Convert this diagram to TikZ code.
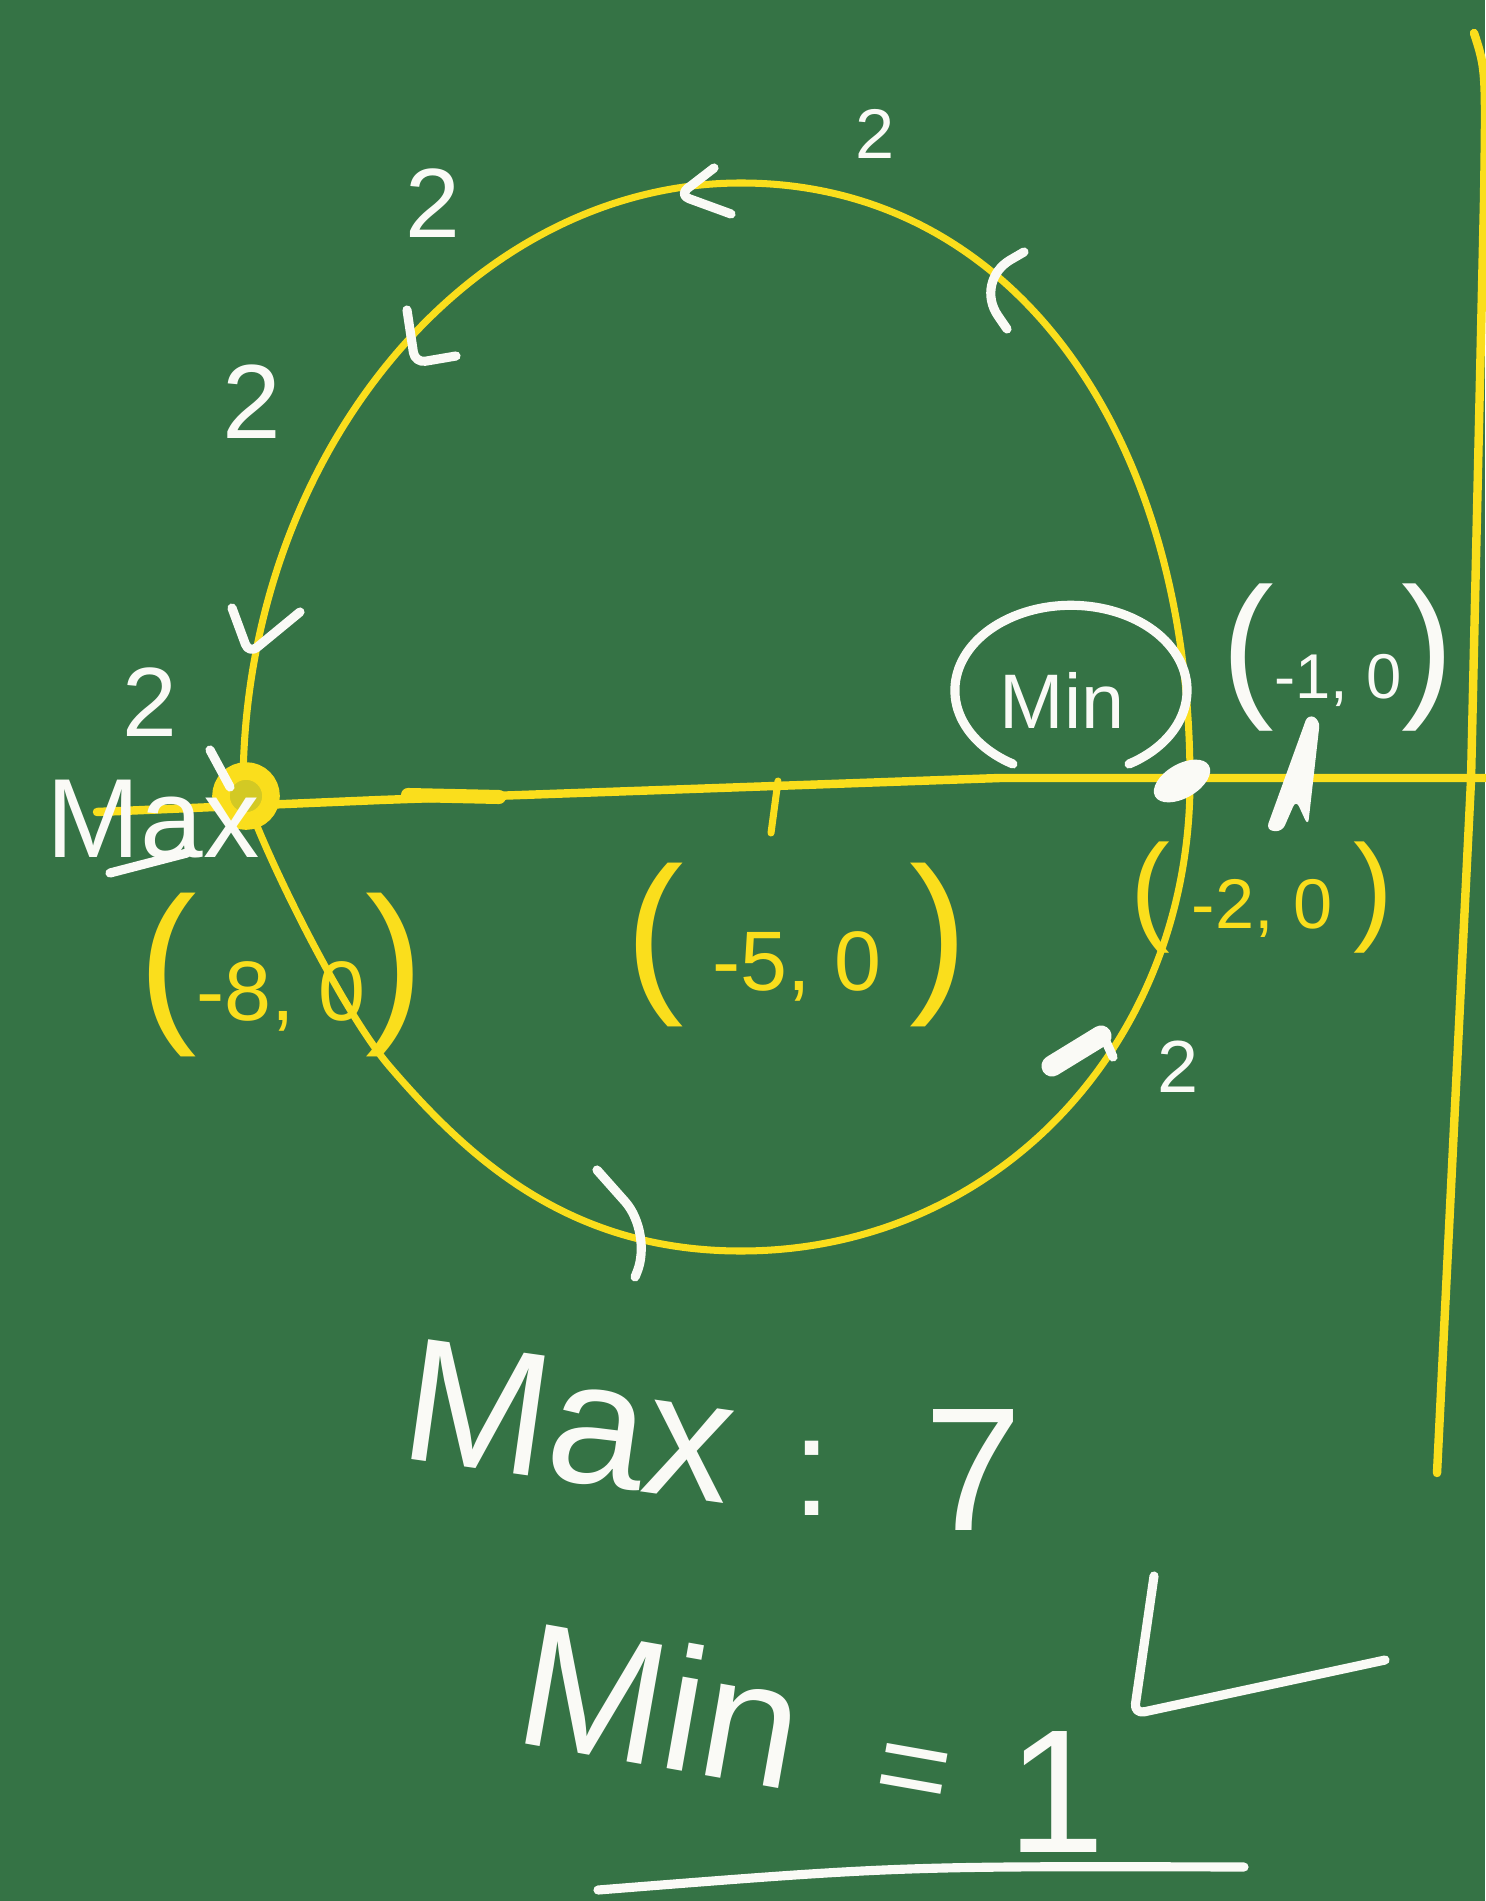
\documentclass[tikz,border=0pt]{standalone}
\usepackage{fontspec}
\setmainfont{Liberation Sans}
\usetikzlibrary{shapes.geometric}
\definecolor{board}{RGB}{53,115,69}
\definecolor{chalky}{RGB}{250,222,28}
\definecolor{chalkw}{RGB}{250,250,246}
\newcommand{\bigpar}[2]{{\fontsize{#1}{#1}\selectfont #2}}

\begin{document}
\begin{tikzpicture}[x={(0.01cm,0cm)},y={(0cm,-0.01cm)},
  every node/.style={inner sep=0pt, outer sep=0pt},
  ypen/.style={draw=chalky, line width=2pt, line cap=round, line join=round},
  wpen/.style={draw=chalkw, line width=2.6pt, line cap=round, line join=round, rounded corners=3pt},
  ytext/.style={text=chalky, font=\fontsize{24}{24}\selectfont},
  wtext/.style={text=chalkw, font=\fontsize{28}{28}\selectfont},
  bigw/.style={text=chalkw, font=\fontsize{50}{50}\selectfont}]

\useasboundingbox (0,0) rectangle (1485,1901);
\fill[board] (0,0) rectangle (1485,1901);

\draw[ypen] (243,788) .. controls (243,455) and (470,183) .. (741,183)
  .. controls (1010,183) and (1190,430) .. (1190,781)
  .. controls (1190,1045) and (995,1251) .. (741,1251)
  .. controls (570,1251) and (470,1160) .. (390,1067)
  .. controls (340,1009) and (258,840) .. cycle;
\draw[ypen, line width=2.4pt] (97,812) -- (380,800) -- (1000,778) -- (1485,778);
\draw[ypen, line width=4pt] (408,795) -- (499,797);
\draw[ypen] (778,781) -- (771,833);
\draw[ypen, line width=2.4pt] (1474,33) .. controls (1486,70) .. (1484,200) -- (1471,780) -- (1437,1473);

\node[circle, draw=chalky, fill=chalky!80!board, line width=5pt, minimum size=0.5cm] (maxpt) at (246,796) {};
\node[ellipse, fill=chalkw, minimum width=0.62cm, minimum height=0.34cm, rotate=30] (minpt) at (1182,781) {};

\draw[wpen] (714,168) -- (679,195) -- (731,214);
\draw[wpen] (407,310) -- (415,363) -- (456,356);
\draw[wpen, rounded corners=12pt] (1024,252) -- (974,281) -- (1007,329);
\draw[wpen] (232,608) -- (249,654) -- (300,612);
\draw[wpen, rounded corners=12pt] (597,1170) -- (653,1233) -- (635,1277);
\draw[wpen, line width=6pt] (1052,1066) -- (1101,1036);
\draw[wpen] (1103,1035) -- (1113,1057);
\draw[wpen] (210,750) -- (230,787);

\node[wtext, font=\fontsize{20}{20}\selectfont] (twoa) at (875,134) {2};
\node[wtext] (twob) at (433,203) {2};
\node[wtext, font=\fontsize{30}{30}\selectfont] (twoc) at (252,402) {2};
\node[wtext] (twod) at (150,702) {2};
\node[wtext, font=\fontsize{21}{21}\selectfont] (twoe) at (1178,1067) {2};

\node[wtext, font=\fontsize{32}{32}\selectfont, anchor=base west] (maxlab) at (47,857) {Max};
\draw[wpen] (110,873) -- (187,853);

\node[wtext, font=\fontsize{22}{22}\selectfont] (minlab) at (1062,700) {Min};
\draw[wpen] (1129,764) arc[start angle=-60, end angle=240, x radius=1.16cm, y radius=0.85cm];

\node[ytext] (pmeight) at (281,975) {\bigpar{50}{(}-8, 0\bigpar{50}{)}};
\node[ytext] (pmfive) at (797,945) {\bigpar{50}{(}\hspace{8pt}-5, 0\hspace{8pt}\bigpar{50}{)}};
\node[ytext, font=\fontsize{20}{20}\selectfont] (pmtwo) at (1262,898) {\bigpar{34}{(}\hspace{6pt}-2, 0\hspace{6pt}\bigpar{34}{)}};
\node[wtext, font=\fontsize{18}{18}\selectfont] (pmone) at (1338,658) {\bigpar{45}{(}-1, 0\bigpar{45}{)}};
\fill[chalkw, rounded corners=2pt] (1266,830) -- (1308,714) -- (1320,720) -- (1308,826) -- (1296,800) -- (1282,832) -- cycle;

\node[bigw, anchor=base west, rotate=-8] (maxres) at (397,1457) {Max};
\node[bigw, font=\fontsize{40}{40}\selectfont] (maxcolon) at (812,1478) {:};
\node[bigw] (maxval) at (973,1470) {7};
\node[bigw, anchor=base west, rotate=-10] (minres) at (511,1741) {Min};
\node[bigw, font=\fontsize{36}{36}\selectfont, rotate=-10] (mineq) at (912,1779) {=};
\node[bigw] (minval) at (1056,1792) {1};
\draw[wpen] (1154,1576) -- (1134,1714) -- (1385,1660);
\draw[wpen] (598,1890) .. controls (900,1866) .. (1244,1867);
\end{tikzpicture}
\end{document}
